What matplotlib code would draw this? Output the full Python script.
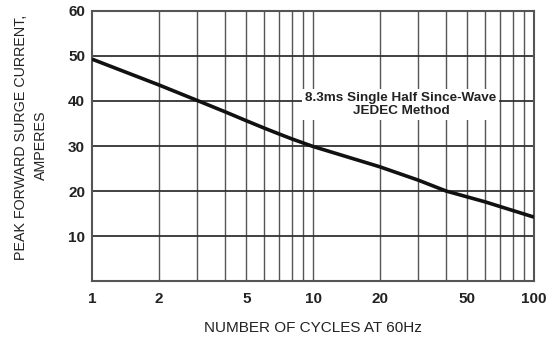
import matplotlib
matplotlib.use("Agg")
import matplotlib.pyplot as plt
import numpy as np

cycles = [1, 2, 3, 4, 5, 6, 7, 8, 9, 10, 20, 30, 40, 60, 100]
current = [49.3, 43.6, 40.1, 37.6, 35.6, 34.0, 32.7, 31.6, 30.7, 29.9, 25.4, 22.4, 20.0, 17.6, 14.2]
xtick_vals = [1, 2, 5, 10, 20, 50, 100]
ytick_vals = [10, 20, 30, 40, 50, 60]

plt.rcParams['font.family'] = ['Liberation Sans', 'DejaVu Sans']
fig = plt.figure(figsize=(5.52, 3.39), dpi=100)
ax = fig.add_axes([0.1667, 0.171, 0.8007, 0.7966])
ax.set_xscale('log')
ax.set_xlim(1, 100)
ax.set_ylim(0, 60)

vgrid = list(range(2, 10)) + list(range(10, 100, 10))
for v in vgrid:
    ax.axvline(v, color='#555555', lw=1.0, zorder=1)
for h in [10, 20, 30, 40, 50]:
    ax.axhline(h, color='#333333', lw=1.3, zorder=1)

ax.plot(cycles, current, color='#111111', lw=2.6, zorder=3, solid_capstyle='butt',
        solid_joinstyle='round')

ax.text(25, 39.2, "8.3ms Single Half Since-Wave\nJEDEC Method", ha='center', va='center',
        fontsize=9.7, fontweight='bold', color='#222222', linespacing=1.15,
        bbox=dict(facecolor='white', edgecolor='none', pad=2), zorder=4)

ax.set_xticks(xtick_vals)
ax.set_xticklabels([str(v) for v in xtick_vals], fontweight='bold', fontsize=11, color='#222222')
ax.minorticks_off()
ax.set_yticks(ytick_vals)
ax.set_yticklabels([str(v) for v in ytick_vals], fontweight='bold', fontsize=11, color='#222222')
ax.tick_params(axis='x', length=0, pad=8)
ax.tick_params(axis='y', length=0, pad=5)
for s in ax.spines.values():
    s.set_color('#555555')
    s.set_linewidth(1.5)

fig.text(313 / 552, 1 - 328 / 339, "NUMBER OF CYCLES AT 60Hz", fontsize=11, color='#222222',
         ha='center', va='center')
fig.text(21 / 552, 1 - 137.5 / 339, "PEAK FORWARD SURGE CURRENT,", fontsize=10.3, color='#222222',
         ha='center', va='center', rotation=90)
fig.text(41 / 552, 1 - 145 / 339, "AMPERES", fontsize=10.3, color='#222222',
         ha='center', va='center', rotation=90)

fig.savefig("out.png", dpi=100)
